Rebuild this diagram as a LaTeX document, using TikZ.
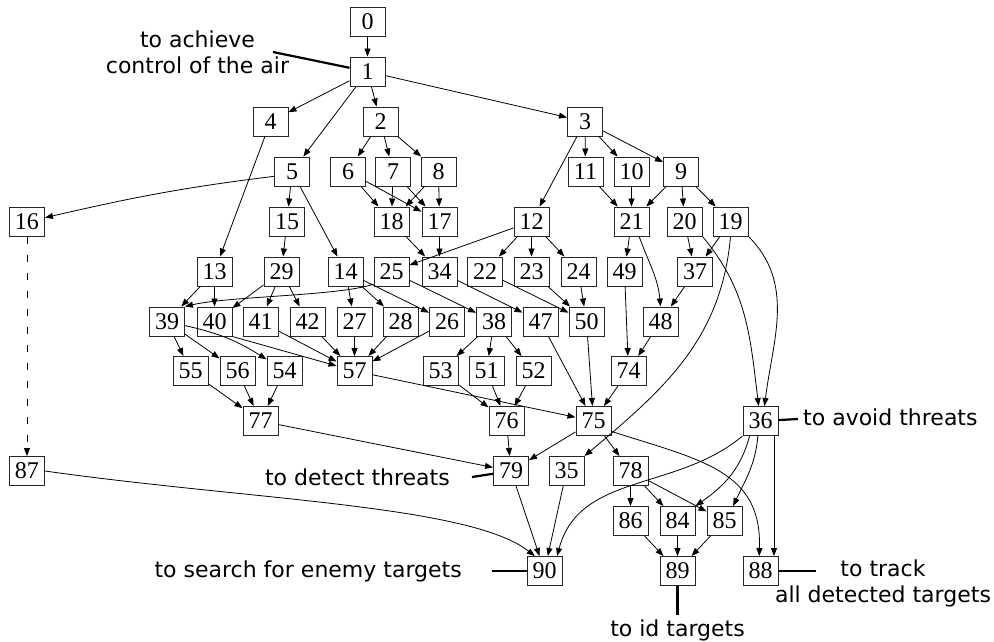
\documentclass[tikz,border=0pt]{standalone}
\usepackage{fontspec}
\setmainfont{Liberation Serif}
\newfontfamily\notefont{DejaVu Sans}
\usetikzlibrary{arrows.meta}

\begin{document}
\begin{tikzpicture}[x=1pt,y=1pt,
  box/.style={draw=black!85, line width=1pt, minimum width=35pt, minimum height=29pt,
              inner sep=0pt, font=\fontsize{24}{24}\selectfont},
  edge/.style={-{Triangle[length=8pt,width=6pt]}, line width=0.8pt},
  dashededge/.style={edge, dash pattern=on 7pt off 11pt},
  note/.style={font=\notefont\fontsize{22}{26}\selectfont, inner sep=0pt, align=center},
  pointer/.style={line width=2.2pt}]

\path[use as bounding box, fill=white] (0,0) rectangle (994,-641);

% ---- goal nodes ----
\node[box] (n0)  at (367.5,-21.5)  {0};
\node[box] (n1)  at (367.5,-71.5)  {1};
\node[box] (n4)  at (270.5,-121.5) {4};
\node[box] (n2)  at (380.5,-121.5) {2};
\node[box] (n3)  at (585,-121.5)   {3};
\node[box] (n5)  at (292,-171.5)   {5};
\node[box] (n6)  at (348,-171.5)   {6};
\node[box] (n7)  at (393,-171.5)   {7};
\node[box] (n8)  at (438.5,-171.5) {8};
\node[box] (n11) at (585.5,-171.5) {11};
\node[box] (n10) at (631.5,-171.5) {10};
\node[box] (n9)  at (681,-171.5)   {9};
\node[box] (n16) at (27,-221.5)    {16};
\node[box] (n15) at (287,-221.5)   {15};
\node[box] (n18) at (391.5,-221.5) {18};
\node[box] (n17) at (439.5,-221.5) {17};
\node[box] (n12) at (531.5,-221.5) {12};
\node[box] (n21) at (631.5,-221.5) {21};
\node[box] (n20) at (684.5,-221.5) {20};
\node[box] (n19) at (730.5,-221.5) {19};
\node[box] (n13) at (214.5,-271.5) {13};
\node[box] (n29) at (281.5,-271.5) {29};
\node[box] (n14) at (345.5,-271.5) {14};
\node[box] (n25) at (391.5,-271.5) {25};
\node[box] (n34) at (439.5,-271.5) {34};
\node[box] (n22) at (485,-271.5)   {22};
\node[box] (n23) at (531.5,-271.5) {23};
\node[box] (n24) at (578.5,-271.5) {24};
\node[box] (n49) at (624.5,-271.5) {49};
\node[box] (n37) at (695,-271.5)   {37};
\node[box] (n39) at (167,-321.5)   {39};
\node[box] (n40) at (214.5,-321.5) {40};
\node[box] (n41) at (260.5,-321.5) {41};
\node[box] (n42) at (307.5,-321.5) {42};
\node[box] (n27) at (354.5,-321.5) {27};
\node[box] (n28) at (400.5,-321.5) {28};
\node[box] (n26) at (447,-321.5)   {26};
\node[box] (n38) at (494,-321.5)   {38};
\node[box] (n47) at (540.5,-321.5) {47};
\node[box] (n50) at (586.5,-321.5) {50};
\node[box] (n48) at (660.5,-321.5) {48};
\node[box] (n55) at (190.5,-371)   {55};
\node[box] (n56) at (237.5,-371)   {56};
\node[box] (n54) at (284.5,-371)   {54};
\node[box] (n57) at (354.5,-371)   {57};
\node[box] (n53) at (440.5,-371)   {53};
\node[box] (n51) at (486.5,-371)   {51};
\node[box] (n52) at (533.5,-371)   {52};
\node[box] (n74) at (628.5,-371)   {74};
\node[box] (n77) at (260.5,-421)   {77};
\node[box] (n76) at (506.5,-421)   {76};
\node[box] (n75) at (593.5,-421)   {75};
\node[box] (n36) at (760.5,-421)   {36};
\node[box] (n87) at (27,-471)      {87};
\node[box] (n79) at (511,-471)     {79};
\node[box] (n35) at (566.5,-471)   {35};
\node[box] (n78) at (630.5,-471)   {78};
\node[box] (n86) at (630.5,-521)   {86};
\node[box] (n84) at (677.5,-521)   {84};
\node[box] (n85) at (724.5,-521)   {85};
\node[box] (n90) at (544.5,-571)   {90};
\node[box] (n89) at (677.5,-571)   {89};
\node[box] (n88) at (760.5,-571)   {88};

% ---- straight dependencies ----
\foreach \a/\b in {0/1, 1/4, 1/5, 1/2, 1/3, 4/13, 5/15, 5/14,
                   2/6, 2/7, 2/8, 6/18, 6/17, 7/18, 7/17, 8/18, 8/17,
                   3/12, 3/11, 3/10, 3/9, 11/21, 10/21, 9/21, 9/20, 9/19,
                   15/29, 18/34, 17/34, 12/25, 12/22, 12/23, 12/24,
                   21/49, 20/37, 19/37, 13/39, 13/40, 29/40, 29/41, 29/42,
                   14/27, 14/28, 14/26, 25/38, 34/47, 22/50, 23/50, 24/50,
                   49/74, 37/48, 39/55, 39/56,
                   41/57, 42/57, 27/57, 28/57, 26/57,
                   38/53, 38/51, 38/52, 47/75, 50/75, 48/74, 74/75,
                   55/77, 56/77, 54/77, 57/75, 53/76, 51/76, 52/76,
                   77/79, 76/79, 75/79, 75/78, 78/86, 78/84, 78/85,
                   86/89, 84/89, 85/89, 79/90, 35/90}
  \draw[edge] (n\a) -- (n\b);

% ---- routed dependencies ----
\draw[edge] (n5.195) to[out=187,in=13] (n16.12);
\draw[dashededge] (n16) -- (n87);
\draw[edge] (n21.-63) to[out=-70,in=95] (n48.north);
\draw[edge] (n20.south east) to[out=-50,in=97] (n36.97);
\draw[edge] (n19.south east) to[out=-45,in=83] (n36.75);
\draw[edge] (n19.south) to[out=-95,in=40] (n35.north east);
\draw[edge] (n25.215) .. controls (340,-296) and (230,-296) .. (n39.north east);
\draw[edge] (n39) to[bend left=10] (n54);
\draw[edge] (n40.south east) -- (n57.164);
\draw[edge] (n75.-30) .. controls (700,-460) and (762,-470) .. (n88.95);
\draw[edge] (n36.south west) to[out=220,in=75] (n90.50);
\draw[edge] (n36.-126) to[out=-105,in=35] (n84.north east);
\draw[edge] (n36.-100) to[out=-95,in=65] (n85.60);
\draw[edge] (n36.-48) -- (n88.48);
\draw[edge] (n87.east) .. controls (250,-500) and (470,-505) .. (n90.123);

% ---- goal annotations ----
\node[note, anchor=north] (tAir) at (197.5,-31) {to achieve\\control of the air};
\coordinate (cAir) at (273,-52);
\draw[pointer] (cAir) -- (n1);

\node[note, anchor=base west] (tAvoid) at (803,-425) {to avoid threats};
\coordinate (cAvoid) at (798,-419);
\draw[pointer] (n36) -- (cAvoid);

\node[note, anchor=base east] (tDetect) at (450,-485) {to detect threats};
\coordinate (cDetect) at (472,-477);
\draw[pointer] (cDetect) -- (n79);

\node[note, anchor=base east] (tSearch) at (462,-577) {to search for enemy targets};
\coordinate (cSearch) at (492,-571);
\draw[pointer] (cSearch) -- (n90);

\node[note, anchor=base] (tId) at (677.5,-636) {to id targets};
\coordinate (cId) at (677.5,-615);
\draw[pointer] (n89) -- (cId);

\node[note, anchor=north] (tTrack) at (883,-560) {to track\\all detected targets};
\coordinate (cTrack) at (816,-571);
\draw[pointer] (n88) -- (cTrack);
\end{tikzpicture}
\end{document}
